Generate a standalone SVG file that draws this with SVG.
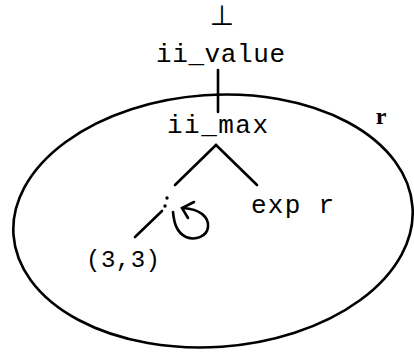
<svg xmlns="http://www.w3.org/2000/svg" width="414" height="352" viewBox="0 0 414 352">
<style>
.t{font-family:"Liberation Mono","Courier New",monospace;font-size:26px;fill:#000}
.s{font-family:"Liberation Mono","Courier New",monospace;font-size:24px;fill:#000}
.ln{stroke:#000;stroke-width:2.6;fill:none;stroke-linecap:round}
</style>
<rect width="414" height="352" fill="#fff"/>
<g id="connectors">
<ellipse class="ln" cx="213" cy="221" rx="200" ry="126" transform="rotate(-4 213 221)"/>
<line class="ln" x1="218" y1="70" x2="218" y2="112"/>
<line class="ln" x1="216" y1="145" x2="175" y2="185"/>
<line class="ln" x1="216" y1="145" x2="257" y2="185"/>
<line class="ln" x1="162" y1="211" x2="135" y2="237"/>
<path class="ln" d="M173,212 C174,222 176,232 186,237 C196,241 207,236 208,227 C209,217 200,209 183,208"/>
<path class="ln" d="M194,202 L182,208 L188,218"/>
</g>
<g id="bottom"><text x="222" y="25" text-anchor="middle" style="font-family:'DejaVu Sans',sans-serif;font-size:28px">⊥</text></g>
<g id="ii_value"><text class="t" x="156" y="62" textLength="129" lengthAdjust="spacing">ii_value</text></g>
<g id="ii_max"><text class="t" x="167" y="133" textLength="101" lengthAdjust="spacing">ii_max</text></g>
<g id="colon"><circle cx="167" cy="198" r="1.7"/><circle cx="165" cy="206" r="1.7"/></g>
<g id="exp_r"><text class="t" x="251" y="213" textLength="83" lengthAdjust="spacing">exp r</text></g>
<g id="pair"><text class="s" x="86" y="267" textLength="74" lengthAdjust="spacing">(3,3)</text></g>
<g id="r_label"><text x="381" y="124" text-anchor="middle" style="font-family:'Liberation Serif',serif;font-size:24px;font-weight:bold">r</text></g>
</svg>
